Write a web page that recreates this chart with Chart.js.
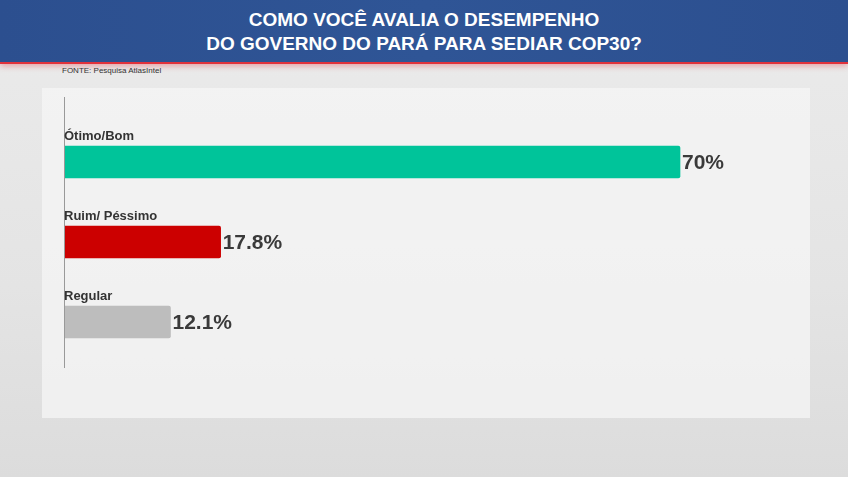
<!DOCTYPE html>
<html><head><meta charset="utf-8">
<script src="https://cdn.jsdelivr.net/npm/chart.js@4"></script>
<style>
html,body{margin:0;padding:0;width:848px;height:477px;overflow:hidden;font-family:"Liberation Sans",Arial,sans-serif;}
body{background:linear-gradient(180deg,#ebebeb 0%,#e4e4e4 60%,#dcdcdc 100%);position:relative;}
#hdr{position:absolute;left:0;top:0;width:848px;height:62px;background:linear-gradient(90deg,#2c4f8f,#2f5596 50%,#2c4f8f);border-bottom:2px solid #e0323c;box-shadow:0 2px 6px rgba(224,50,60,0.4);}
#hdr div{color:#fff;font-weight:bold;font-size:19px;text-align:center;line-height:24px;padding-top:8px;}
#src{position:absolute;left:62px;top:66px;font-size:8px;color:#333;}
#panel{position:absolute;left:42px;top:88px;width:768px;height:330px;background:rgba(245,245,245,0.75);}
#c{position:absolute;left:0;top:0;}
</style></head><body>
<div id="hdr"><div>COMO VOCÊ AVALIA O DESEMPENHO<br>DO GOVERNO DO PARÁ PARA SEDIAR COP30?</div></div>
<div id="src">FONTE: Pesquisa AtlasIntel</div>
<div id="panel"></div>
<canvas id="c" width="848" height="477"></canvas>
<script>
const categories=["Ótimo/Bom","Ruim/ Péssimo","Regular"];
const values=[70,17.8,12.1];
const valueLabels=["70%","17.8%","12.1%"];
const colors=["#00c49a","#cc0000","#bdbdbd"];
const labelPlugin={id:"lbl",afterDatasetsDraw(chart){
 const ctx=chart.ctx,meta=chart.getDatasetMeta(0),a=chart.chartArea;
 ctx.save();
 ctx.strokeStyle="#999";ctx.lineWidth=1;
 ctx.beginPath();ctx.moveTo(a.left+0.5,97);ctx.lineTo(a.left+0.5,368);ctx.stroke();
 meta.data.forEach((b,i)=>{
  ctx.fillStyle="#333";ctx.font="bold 13px 'Liberation Sans',Arial";
  ctx.textBaseline="alphabetic";ctx.textAlign="left";
  ctx.fillText(categories[i],a.left,b.y-22);
  ctx.fillStyle="#3a3a3a";
  ctx.font="bold 21px 'Liberation Sans',Arial";ctx.textBaseline="middle";
  ctx.fillText(valueLabels[i],b.x+2,b.y+1);
 });
 ctx.restore();}};
new Chart(document.getElementById("c"),{type:"bar",
 data:{labels:categories,datasets:[{data:values,backgroundColor:colors,barThickness:32,borderRadius:2,borderSkipped:"start"}]},
 options:{indexAxis:"y",responsive:false,animation:false,
  layout:{padding:{left:64,right:58,top:122,bottom:115}},
  plugins:{legend:{display:false},tooltip:{enabled:false}},
  scales:{x:{display:false,min:0,max:82.5},y:{display:false}}},
 plugins:[labelPlugin]});
</script></body></html>
